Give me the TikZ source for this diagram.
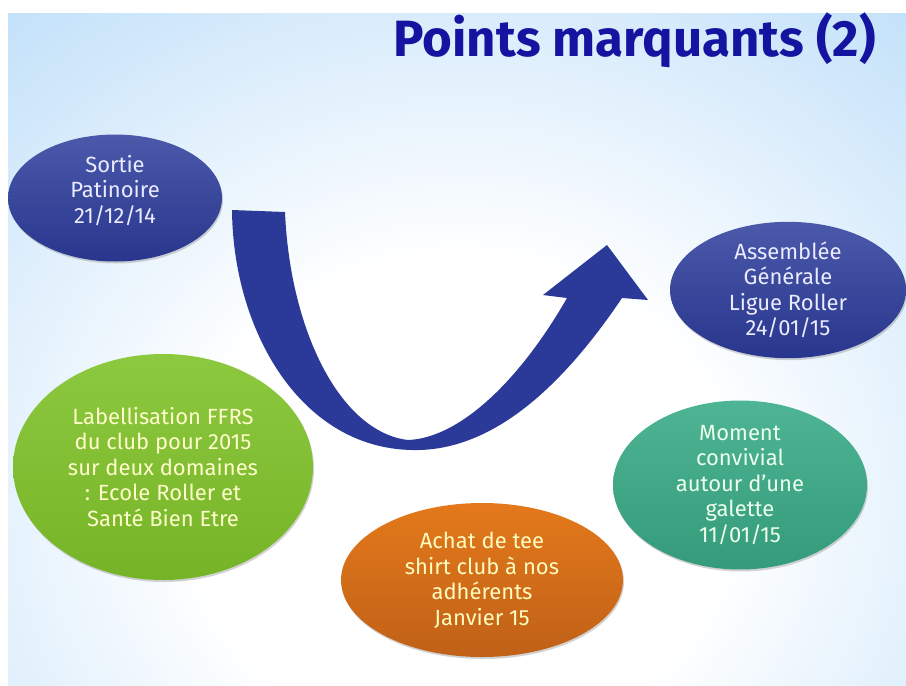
\documentclass[tikz,border=0pt]{standalone}
\usepackage{fontspec}
\usepackage{tikz}
\setmainfont{Fira Sans}
\definecolor{bgblue}{RGB}{160,208,246}
\definecolor{ovalblue}{RGB}{44,60,156}
\definecolor{ovalgreen}{RGB}{128,195,42}
\definecolor{ovalteal}{RGB}{58,172,136}
\definecolor{ovalorange}{RGB}{226,114,28}
\definecolor{arrowblue}{RGB}{43,58,153}
\definecolor{titleblue}{RGB}{20,20,160}
\usetikzlibrary{shapes.geometric, shadows}
\pgfdeclareradialshading{slideglow}{\pgfpoint{0bp}{0bp}}{%
  color(0bp)=(white); color(7bp)=(white); color(25bp)=(bgblue); color(50bp)=(bgblue)}
\tikzset{%
  oval/.style={ellipse, inner sep=0pt, align=center,
    font=\fontsize{22}{25.5}\selectfont,
    drop shadow={opacity=0.35, shadow xshift=1pt, shadow yshift=-2pt}},% event bubble
  blueoval/.style={oval, top color=ovalblue!85!white, bottom color=ovalblue!90!black, text=white!92!blue},
  greenoval/.style={oval, top color=ovalgreen!90!white, bottom color=ovalgreen!92!black, text=yellow!20!white},
  tealoval/.style={oval, top color=ovalteal!90!white, bottom color=ovalteal!90!black, text=green!8!white},
  orangeoval/.style={oval, top color=ovalorange!95!yellow, bottom color=ovalorange!85!black, text=yellow!25!white},
  title/.style={font=\fontsize{51}{56}\selectfont\bfseries, text=titleblue, inner sep=0pt}
}

\begin{document}
\begin{tikzpicture}[x=1pt, y=-1pt]
\useasboundingbox (0,0) rectangle (906,686);
\fill[white] (0,0) rectangle (906,686);
% slide background
\fill[bgblue] (8,13) rectangle (906,685);
\begin{scope}
  \clip (8,13) rectangle (906,685);
  \shade[shading=slideglow] (460,500) ellipse (960pt and 860pt);
\end{scope}

\node[title, anchor=base east] (titre) at (876,56) {Points marquants (2)};

% curved arrow
\fill[arrowblue] (232,210) .. controls (233,330) and (300,448) .. (412,450)
  .. controls (490,452) and (560,390) .. (622,298)
  -- (648,300) -- (607,245) -- (543,295) -- (567,298)
  .. controls (520,380) and (460,438) .. (408,440)
  .. controls (340,432) and (290,330) .. (285,212) -- cycle;

\node[blueoval, minimum width=214pt, minimum height=127pt] (sortie) at (115,198)
  {Sortie\\Patinoire\\21/12/14\\[-8pt]};
\node[blueoval, minimum width=236pt, minimum height=135pt] (assemblee) at (788,290)
  {Assemblée\\Générale\\Ligue Roller\\24/01/15};
\node[greenoval, minimum width=300pt, minimum height=226pt] (label) at (163,467)
  {Labellisation FFRS\\du club pour 2015\\sur deux domaines\\: Ecole Roller et\\Santé Bien Etre};
\node[tealoval, minimum width=254pt, minimum height=144pt] (galette) at (740,485)
  {Moment\\convivial\\autour d’une\\galette\\11/01/15};
\node[orangeoval, minimum width=282pt, minimum height=154pt] (achat) at (482,580)
  {Achat de tee\\shirt club à nos\\adhérents\\Janvier 15};
\end{tikzpicture}
\end{document}
